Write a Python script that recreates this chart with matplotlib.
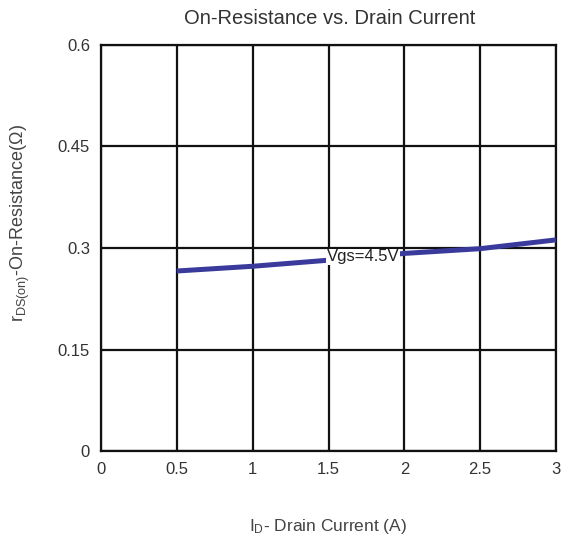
import matplotlib
matplotlib.use("Agg")
import matplotlib.pyplot as plt

# data
drain_current = [0.5, 1.0, 1.5, 2.0, 2.5, 3.0]
on_resistance = [0.266, 0.273, 0.282, 0.292, 0.299, 0.312]
x_ticks = [0, 0.5, 1, 1.5, 2, 2.5, 3]
y_ticks = [0, 0.15, 0.3, 0.45, 0.6]
curve_label = "Vgs=4.5V"

plt.rcParams['font.family'] = ['Liberation Sans', 'DejaVu Sans']
plt.rcParams['mathtext.fontset'] = 'custom'
plt.rcParams['mathtext.rm'] = 'Liberation Sans'
plt.rcParams['mathtext.it'] = 'Liberation Sans'

W, H = 569, 539
fig = plt.figure(figsize=(W / 100, H / 100), dpi=100)
ax = fig.add_axes([101 / W, 1 - 451 / H, 455 / W, 406 / H])

ax.plot(drain_current, on_resistance, color='#3a3a9c', lw=3.6,
        solid_capstyle='butt', zorder=3)
ax.text(1.73, 0.287, curve_label, fontsize=12, color='#222222',
        ha='center', va='center', zorder=4,
        bbox=dict(facecolor='white', edgecolor='none', pad=0.5))

ax.set_xlim(0, 3)
ax.set_ylim(0, 0.6)
ax.set_xticks(x_ticks)
ax.set_xticklabels([f"{t:g}" for t in x_ticks])
ax.set_yticks(y_ticks)
ax.set_yticklabels([f"{t:g}" for t in y_ticks])
ax.grid(True, color='#111111', lw=1.6)
ax.set_axisbelow(True)
for s in ax.spines.values():
    s.set_linewidth(1.6)
    s.set_color('#111111')
ax.tick_params(length=0, labelsize=12, colors='#333333', pad=8)

# titles placed in figure pixels, as in the reference
fig.text(330 / W, 1 - 18 / H, "On-Resistance vs. Drain Current", fontsize=14.5,
         color='#333333', ha='center', va='center')
fig.text(328 / W, 1 - 527 / H, r"$\mathregular{I_D}$- Drain Current (A)",
         fontsize=12.5, color='#444444', ha='center', va='center')
fig.text(20 / W, 1 - 223 / H, r"$\mathregular{r_{DS(on)}}$-On-Resistance(Ω)",
         fontsize=13, color='#444444', ha='center', va='center', rotation=90)

fig.savefig("out.png", dpi=100)
